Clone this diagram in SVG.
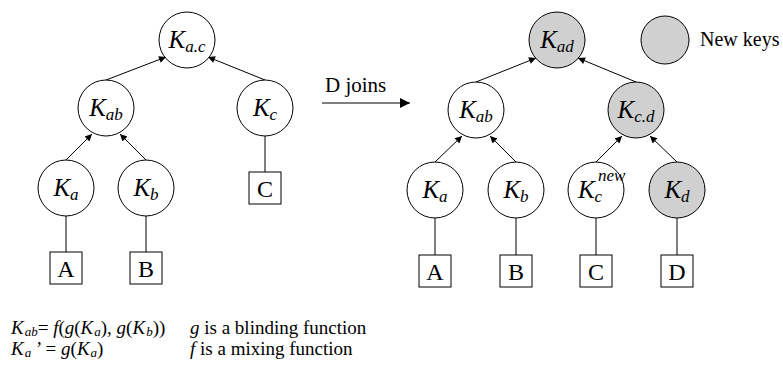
<svg xmlns="http://www.w3.org/2000/svg" width="783" height="369" viewBox="0 0 783 369">
  <style>
    .key { fill: #ffffff; stroke: #000000; stroke-width: 1; }
    .new { fill: #d0d0d0; stroke: #000000; stroke-width: 1; }
    .member { fill: #ffffff; stroke: #000000; stroke-width: 1; }
    .edge { stroke: #000000; stroke-width: 1; fill: none; }
    .up { stroke: #000000; stroke-width: 1; fill: none; marker-end: url(#head); }
    text { font-family: "Liberation Serif", "Times New Roman", serif; fill: #000000; }
    .lbl { font-size: 25px; font-style: italic; text-anchor: middle; }
    .sub { font-size: 17px; }
    .box { font-size: 24px; text-anchor: middle; }
    .note { font-size: 19px; }
    .it { font-style: italic; }
    .s { font-size: 13px; font-style: italic; }
  </style>
  <defs>
    <marker id="head" viewBox="0 0 10 10" refX="10" refY="5" markerWidth="9" markerHeight="7" orient="auto" markerUnits="userSpaceOnUse">
      <path d="M0,0 L10,5 L0,10 z" fill="#000000"/>
    </marker>
    <marker id="big" viewBox="0 0 10 10" refX="10" refY="5" markerWidth="14" markerHeight="10" orient="auto" markerUnits="userSpaceOnUse">
      <path d="M0,0 L10,5 L0,10 z" fill="#000000"/>
    </marker>
  </defs>

  <!-- connectors -->
  <g id="connectors">
    <!-- tree before the join -->
    <line class="up" x1="106" y1="80" x2="166" y2="57"/>
    <line class="up" x1="265" y1="80" x2="208" y2="57"/>
    <line class="up" x1="66" y1="160" x2="92" y2="134"/>
    <line class="up" x1="146" y1="160" x2="120" y2="134"/>
    <line class="edge" x1="265" y1="136" x2="265" y2="172"/>
    <line class="edge" x1="66" y1="216" x2="66" y2="252"/>
    <line class="edge" x1="146" y1="216" x2="146" y2="252"/>
    <!-- join arrow -->
    <line x1="322" y1="103" x2="410" y2="103" stroke="#000000" stroke-width="1.2" marker-end="url(#big)"/>
    <!-- tree after the join -->
    <line class="up" x1="476" y1="82" x2="536" y2="58"/>
    <line class="up" x1="636" y1="82" x2="578" y2="58"/>
    <line class="up" x1="435" y1="162" x2="462" y2="136"/>
    <line class="up" x1="516" y1="162" x2="490" y2="136"/>
    <line class="up" x1="596" y1="162" x2="622" y2="136"/>
    <line class="up" x1="677" y1="162" x2="650" y2="136"/>
    <line class="edge" x1="435" y1="218" x2="435" y2="255"/>
    <line class="edge" x1="516" y1="218" x2="516" y2="255"/>
    <line class="edge" x1="596" y1="218" x2="596" y2="255"/>
    <line class="edge" x1="677" y1="218" x2="677" y2="255"/>
  </g>

  <text x="325" y="92" font-size="21">D joins</text>

  <!-- tree before the join -->
  <g id="L-Kac">
    <circle class="key" cx="187" cy="40" r="28"/>
    <text class="lbl" x="187" y="48">K<tspan class="sub" dy="4">a.c</tspan></text>
  </g>
  <g id="L-Kab">
    <circle class="key" cx="106" cy="108" r="28"/>
    <text class="lbl" x="106" y="116">K<tspan class="sub" dy="4">ab</tspan></text>
  </g>
  <g id="L-Kc">
    <circle class="key" cx="265" cy="108" r="28"/>
    <text class="lbl" x="265" y="116">K<tspan class="sub" dy="4">c</tspan></text>
  </g>
  <g id="L-Ka">
    <circle class="key" cx="66" cy="188" r="28"/>
    <text class="lbl" x="66" y="196">K<tspan class="sub" dy="4">a</tspan></text>
  </g>
  <g id="L-Kb">
    <circle class="key" cx="146" cy="188" r="28"/>
    <text class="lbl" x="146" y="196">K<tspan class="sub" dy="4">b</tspan></text>
  </g>
  <g id="L-A">
    <rect class="member" x="50" y="252" width="32" height="32"/>
    <text class="box" x="66" y="277">A</text>
  </g>
  <g id="L-B">
    <rect class="member" x="130" y="252" width="32" height="32"/>
    <text class="box" x="146" y="277">B</text>
  </g>
  <g id="L-C">
    <rect class="member" x="249" y="172" width="32" height="32"/>
    <text class="box" x="265" y="197">C</text>
  </g>

  <!-- tree after the join -->
  <g id="R-Kad">
    <circle class="new" cx="557" cy="40" r="28"/>
    <text class="lbl" x="557" y="48">K<tspan class="sub" dy="4">ad</tspan></text>
  </g>
  <g id="R-Kab">
    <circle class="key" cx="476" cy="110" r="28"/>
    <text class="lbl" x="476" y="118">K<tspan class="sub" dy="4">ab</tspan></text>
  </g>
  <g id="R-Kcd">
    <circle class="new" cx="636" cy="110" r="28"/>
    <text class="lbl" x="636" y="118">K<tspan class="sub" dy="4">c.d</tspan></text>
  </g>
  <g id="R-Ka">
    <circle class="key" cx="435" cy="190" r="28"/>
    <text class="lbl" x="435" y="198">K<tspan class="sub" dy="4">a</tspan></text>
  </g>
  <g id="R-Kb">
    <circle class="key" cx="516" cy="190" r="28"/>
    <text class="lbl" x="516" y="198">K<tspan class="sub" dy="4">b</tspan></text>
  </g>
  <g id="R-Kc">
    <circle class="key" cx="596" cy="190" r="28"/>
    <text class="lbl" x="590" y="198">K<tspan class="sub" dy="4">c</tspan></text>
    <text class="sub it" x="598" y="181">new</text>
  </g>
  <g id="R-Kd">
    <circle class="new" cx="677" cy="190" r="28"/>
    <text class="lbl" x="677" y="198">K<tspan class="sub" dy="4">d</tspan></text>
  </g>
  <g id="R-A">
    <rect class="member" x="419" y="255" width="32" height="32"/>
    <text class="box" x="435" y="280">A</text>
  </g>
  <g id="R-B">
    <rect class="member" x="500" y="255" width="32" height="32"/>
    <text class="box" x="516" y="280">B</text>
  </g>
  <g id="R-C">
    <rect class="member" x="580" y="255" width="32" height="32"/>
    <text class="box" x="596" y="280">C</text>
  </g>
  <g id="R-D">
    <rect class="member" x="661" y="255" width="32" height="32"/>
    <text class="box" x="677" y="280">D</text>
  </g>

  <!-- legend -->
  <g id="legend">
    <circle class="new" cx="665" cy="40" r="24"/>
    <text x="700" y="46" font-size="20">New keys</text>
  </g>

  <!-- definitions -->
  <g id="notes" class="note">
    <text x="11" y="334"><tspan class="it">K</tspan><tspan class="s" dx="1" dy="2">ab</tspan><tspan dy="-2">= </tspan><tspan class="it">f</tspan>(<tspan class="it">g</tspan>(<tspan class="it">K</tspan><tspan class="s" dx="1" dy="2">a</tspan><tspan dy="-2">), </tspan><tspan class="it">g</tspan>(<tspan class="it">K</tspan><tspan class="s" dx="1" dy="2">b</tspan><tspan dy="-2">))</tspan></text>
    <text x="190" y="334"><tspan class="it">g</tspan> is a blinding function</text>
    <text x="11" y="355"><tspan class="it">K</tspan><tspan class="s" dx="1" dy="2">a</tspan><tspan dy="-2"> ’ = </tspan><tspan class="it">g</tspan>(<tspan class="it">K</tspan><tspan class="s" dx="1" dy="2">a</tspan><tspan dy="-2">)</tspan></text>
    <text x="190" y="355"><tspan class="it">f</tspan> is a mixing function</text>
  </g>
</svg>
